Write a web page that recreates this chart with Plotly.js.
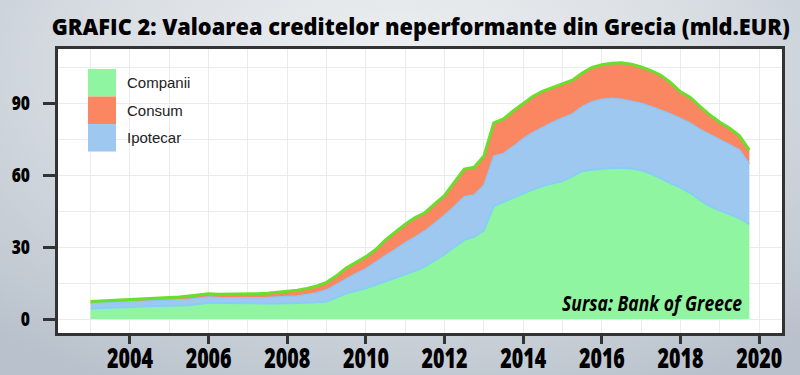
<!DOCTYPE html>
<html>
<head>
<meta charset="utf-8">
<script src="https://cdn.plot.ly/plotly-3.0.1.min.js"></script>
<style>
  html, body { margin: 0; padding: 0; width: 800px; height: 375px; overflow: hidden; }
  body { background: radial-gradient(ellipse 75% 95% at 50% 18%, #eef0f2 0%, #d9dee3 50%, #b9c2cc 100%); }
  #chart { width: 800px; height: 375px; }
</style>
</head>
<body>
<div id="chart"></div>
<script>
// Quarter-end points (decimal years), 2002Q4 .. 2019Q3
const quarters = [
  2003.00, 2003.25, 2003.50, 2003.75,
  2004.00, 2004.25, 2004.50, 2004.75,
  2005.00, 2005.25, 2005.50, 2005.75,
  2006.00, 2006.25, 2006.50, 2006.75,
  2007.00, 2007.25, 2007.50, 2007.75,
  2008.00, 2008.25, 2008.50, 2008.75,
  2009.00, 2009.25, 2009.50, 2009.75,
  2010.00, 2010.25, 2010.50, 2010.75,
  2011.00, 2011.25, 2011.50, 2011.75,
  2012.00, 2012.25, 2012.50, 2012.75,
  2013.00, 2013.25, 2013.50, 2013.75,
  2014.00, 2014.25, 2014.50, 2014.75,
  2015.00, 2015.25, 2015.50, 2015.75,
  2016.00, 2016.25, 2016.50, 2016.75,
  2017.00, 2017.25, 2017.50, 2017.75,
  2018.00, 2018.25, 2018.50, 2018.75,
  2019.00, 2019.25, 2019.50, 2019.75
];

// mld. EUR
const companii = [
  4.4, 4.6, 4.8, 4.9,
  5.0, 5.1, 5.3, 5.4,
  5.5, 5.6, 5.8, 6.3,
  6.8, 6.7, 6.6, 6.5,
  6.5, 6.4, 6.5, 6.5,
  6.5, 6.6, 6.8, 7.0,
  7.3, 9.0, 10.7, 11.8,
  12.8, 14.3, 15.8, 17.1,
  18.6, 20.1, 22.0, 24.5,
  27.0, 30.0, 33.0, 34.3,
  37.0, 47.1, 48.9, 50.5,
  52.2, 54.0, 55.5, 56.5,
  57.5, 59.5, 61.6, 62.2,
  62.7, 62.9, 62.9, 62.7,
  62.0, 60.5, 58.6, 56.5,
  54.8, 52.5, 49.5, 47.0,
  45.3, 43.6, 42.0, 39.5
];

const ipotecar = [
  2.2, 2.1, 2.1, 2.2,
  2.2, 2.2, 2.2, 2.3,
  2.3, 2.4, 2.5, 2.5,
  2.4, 2.3, 2.3, 2.4,
  2.4, 2.5, 2.5, 2.7,
  2.8, 3.0, 3.4, 4.0,
  4.9, 5.5, 6.3, 7.2,
  8.2, 9.5, 10.7, 11.9,
  13.2, 14.1, 14.8, 15.5,
  16.3, 17.0, 18.0, 17.4,
  18.8, 20.8, 20.1, 21.5,
  23.0, 23.8, 24.5, 25.5,
  26.3, 26.0, 26.9, 28.3,
  28.9, 29.1, 28.7, 28.1,
  27.9, 28.1, 28.5, 29.0,
  28.8, 29.1, 29.5, 29.8,
  29.3, 29.0, 28.5, 25.1
];

const consum = [
  0.7, 0.8, 0.8, 0.8,
  0.8, 0.9, 0.9, 1.0,
  1.1, 1.2, 1.3, 1.4,
  1.3, 1.3, 1.4, 1.5,
  1.6, 1.7, 1.8, 2.0,
  2.2, 2.4, 2.6, 2.8,
  3.1, 3.5, 4.3, 4.5,
  5.0, 5.2, 6.5, 7.3,
  7.7, 8.1, 7.5, 8.0,
  8.2, 10.0, 11.5, 11.5,
  12.1, 13.8, 14.4, 14.8,
  14.6, 15.0, 15.0, 14.5,
  14.0, 14.0, 14.0, 14.3,
  14.4, 14.6, 15.2, 15.4,
  15.1, 14.9, 14.5, 13.0,
  11.1, 10.7, 9.5, 8.2,
  7.4, 6.9, 5.8, 5.8
];

const seriesNames = ['Companii', 'Consum', 'Ipotecar'];
const xTickVals = [2004, 2006, 2008, 2010, 2012, 2014, 2016, 2018, 2020];
const yTickVals = [0, 30, 60, 90];

const titleText = 'GRAFIC 2: Valoarea creditelor neperformante din Grecia (mld.EUR)';
const sourceText = 'Sursa: Bank of Greece';

const GREEN = '#90f5a1';
const ORANGE = '#fa8662';
const BLUE = '#9fc8f1';
const COND = '"Open Sans", "Liberation Sans", sans-serif';

const traces = [
  { x: quarters, y: companii, name: 'Companii', type: 'scatter', mode: 'lines',
    stackgroup: 'nplf', fillcolor: GREEN, line: { color: '#88cdf6', width: 2 } },
  { x: quarters, y: ipotecar, name: 'Ipotecar', type: 'scatter', mode: 'lines',
    stackgroup: 'nplf', fillcolor: BLUE, line: { color: '#8fc6f3', width: 1.5 } },
  { x: quarters, y: consum, name: 'Consum', type: 'scatter', mode: 'lines',
    stackgroup: 'nplf', fillcolor: ORANGE, line: { color: '#66e02c', width: 3 } }
];

// custom legend (stacked squares as in original)
const legColors = [GREEN, ORANGE, BLUE];
const shapes = [];
const annotations = [];
const legTop = 0.9296, legStep = 0.0969;
for (let i = 0; i < seriesNames.length; i++) {
  shapes.push({ type: 'rect', xref: 'paper', yref: 'paper',
    x0: 0.0414, x1: 0.0801, y0: legTop - (i + 1) * legStep, y1: legTop - i * legStep,
    fillcolor: legColors[i], line: { width: 0 }, layer: 'above' });
  annotations.push({ xref: 'paper', yref: 'paper', x: 0.0925, y: legTop - (i + 0.5) * legStep,
    xanchor: 'left', yanchor: 'middle', showarrow: false, text: seriesNames[i],
    font: { family: '"Liberation Sans", Arial, sans-serif', size: 15, color: '#222' } });
}
annotations.push({ xref: 'paper', yref: 'paper', x: 0.8211, y: 0.106, xanchor: 'center', yanchor: 'middle',
  showarrow: false, text: sourceText,
  font: { family: COND, size: 21, color: '#000', weight: 'bold', style: 'italic' } });

const layout = {
  width: 800, height: 375,
  margin: { l: 58, r: 18, t: 49, b: 42, pad: 0 },
  paper_bgcolor: 'rgba(0,0,0,0)',
  plot_bgcolor: '#ffffff',
  showlegend: false,
  title: { text: titleText, x: 0.501, xanchor: 'center', xref: 'paper', y: 0.928, yanchor: 'middle',
    font: { family: COND, size: 22, color: '#000', weight: 800 } },
  xaxis: {
    range: [2002.17, 2020.58], tickvals: xTickVals, ticktext: xTickVals.map(String),
    ticks: 'outside', ticklen: 8, tickwidth: 3, tickcolor: '#333',
    showline: true, linecolor: '#333', linewidth: 3, mirror: true,
    showgrid: true, gridcolor: '#ebebeb', gridwidth: 1, zeroline: false,
    minor: { tick0: 2003, dtick: 1, showgrid: true, gridcolor: '#ebebeb', gridwidth: 1, ticklen: 0 },
    tickfont: { family: COND, size: 28, color: '#000', weight: 800 }
  },
  yaxis: {
    range: [-5.8, 112.5], tickvals: yTickVals, ticktext: yTickVals.map(String),
    ticks: 'outside', ticklen: 12, tickwidth: 3, tickcolor: '#333',
    showline: true, linecolor: '#333', linewidth: 3, mirror: true,
    showgrid: true, gridcolor: '#ebebeb', gridwidth: 1, zeroline: false,
    minor: { tick0: 15, dtick: 30, showgrid: true, gridcolor: '#ebebeb', gridwidth: 1, ticklen: 0 },
    ticklabelstandoff: 9,
    tickfont: { family: COND, size: 20, color: '#000', weight: 800 }
  },
  shapes: shapes,
  annotations: annotations
};

// horizontally condense text to mimic the original's condensed typeface
function condense(el, target) {
  if (!el) return;
  el.setAttribute('textLength', target);
  el.setAttribute('lengthAdjust', 'spacingAndGlyphs');
}
function condenseBy(el, factor) {
  if (!el) return;
  condense(el, el.getComputedTextLength() * factor);
}

Plotly.newPlot('chart', traces, layout, { displayModeBar: false, staticPlot: true }).then(function (gd) {
  condense(gd.querySelector('.gtitle'), 738);
  gd.querySelectorAll('.xtick text').forEach(function (t) {
    condenseBy(t, 0.70);
    const y0 = parseFloat(t.getAttribute('y') || '0');
    t.setAttribute('y', y0 - 10);
  });
  gd.querySelectorAll('.ytick text').forEach(function (t) { condenseBy(t, 0.78); });
  gd.querySelectorAll('.annotation-text').forEach(function (t) {
    if (t.textContent === sourceText) condense(t, 180);
  });
});
</script>
</body>
</html>
